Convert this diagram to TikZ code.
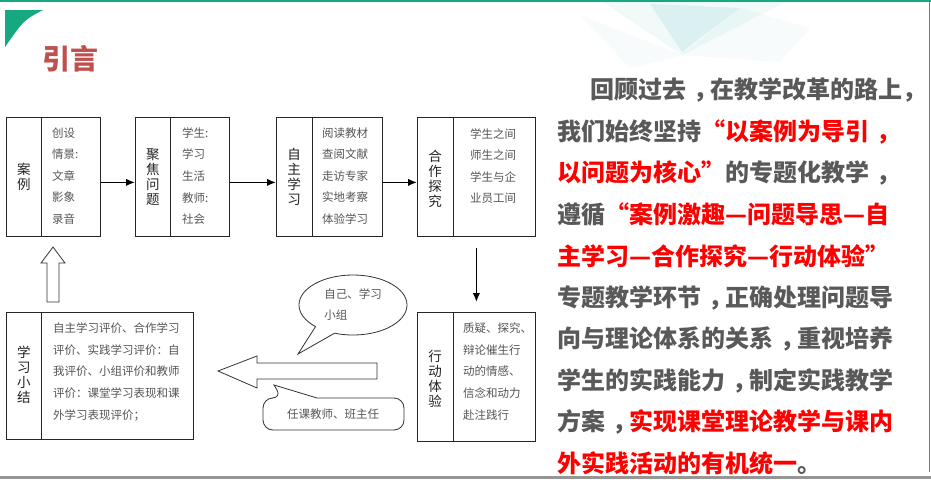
\documentclass[tikz,border=0pt]{standalone}
\usepackage{fontspec}
\newfontfamily\cjk{Noto Sans CJK SC}
\usetikzlibrary{arrows.meta,shapes.callouts,calc}
\definecolor{tealg}{RGB}{22,168,128}
\definecolor{polyteal}{RGB}{120,200,205}
\definecolor{titlered}{RGB}{192,80,77}
\definecolor{txtgray}{RGB}{89,89,89}
\definecolor{lstgray}{RGB}{85,85,85}
\definecolor{lblblack}{RGB}{35,35,35}
\definecolor{redtxt}{RGB}{255,0,0}
\definecolor{edgegray}{RGB}{150,150,150}
\newcommand{\zc}{\makebox[24pt][l]{\hspace{7pt}，}}
\begin{document}
\begin{tikzpicture}[x=1pt,y=-1pt,
  part/.style={draw=black!85, line width=0.8pt, minimum height=119pt, inner sep=0pt, anchor=north west},
  partlow/.style={part, minimum height=128pt},
  vlabel/.style={align=center, inner sep=0pt, text=lblblack, font=\cjk\fontsize{13.5}{15}\selectfont},
  lst/.style={align=left, inner sep=0pt, text=lstgray, font=\cjk\fontsize{11.5}{21.6}\selectfont},
  conn/.style={line width=1.6pt, -{Latex[length=9pt,width=7.5pt]}},
  hollow/.style={draw=black!80, line width=0.8pt, fill=white},
  para/.style={anchor=west, inner sep=0pt, text=txtgray, font=\cjk\bfseries\fontsize{24}{24}\selectfont}
]
\useasboundingbox (0,0) rectangle (931,479);
\fill[white] (0,0) rectangle (931,479);
% faint background polygons
\fill[polyteal, opacity=0.10] (600,0) -- (790,0) -- (682,55) -- cycle;
\fill[polyteal, opacity=0.18] (650,4) -- (740,8) -- (700,38) -- (682,52) -- cycle;
\fill[polyteal, opacity=0.06] (580,15) -- (682,55) -- (630,68) -- cycle;
\fill[polyteal, opacity=0.06] (740,8) -- (810,28) -- (780,62) -- (682,55) -- cycle;
% frame lines
\draw[tealg, line width=2pt] (0,1) -- (931,1);
\draw[tealg, line width=1.5pt] (929.5,0) -- (929.5,472);
\draw[edgegray, line width=3pt] (0,477.5) -- (931,477.5);
% corner ornament
\fill[tealg] (5,10) -- (43,10) .. controls (24,20) .. (5,47) -- cycle;
% title
\node[inner sep=0pt, text=titlered, font=\cjk\bfseries\fontsize{28}{28}\selectfont] (title) at (70.5,59) {引言};

% top row boxes
\node[part, minimum width=35pt] (b1l) at (6,117) {};
\node[part, minimum width=59pt] (b1r) at (41,117) {};
\node[part, minimum width=35pt] (b2l) at (135,117) {};
\node[part, minimum width=59pt] (b2r) at (170,117) {};
\node[part, minimum width=35.5pt] (b3l) at (276,117) {};
\node[part, minimum width=70.5pt] (b3r) at (311.5,117) {};
\node[part, minimum width=35.5pt] (b4l) at (417,117) {};
\node[part, minimum width=82.5pt] (b4r) at (452.5,117) {};
% bottom row boxes
\node[partlow, minimum width=35.5pt, minimum height=129pt] (b5l) at (417,312) {};
\node[partlow, minimum width=82.5pt, minimum height=129pt] (b5r) at (452.5,312) {};
\node[partlow, minimum width=35pt, minimum height=127pt] (b6l) at (6,312) {};
\node[partlow, minimum width=152pt, minimum height=127pt] (b6r) at (41,312) {};

% labels
\node[vlabel] (l1) at (b1l.center) {案\\例};
\node[vlabel] (l2) at (b2l.center) {聚\\焦\\问\\题};
\node[vlabel] (l3) at (b3l.center) {自\\主\\学\\习};
\node[vlabel] (l4) at ([yshift=-1.5pt]b4l.center) {合\\作\\探\\究};
\node[vlabel] (l5) at ([yshift=-1.5pt]b5l.center) {行\\动\\体\\验};
\node[vlabel] (l6) at ([yshift=1pt]b6l.center) {学\\习\\小\\结};

% contents
\node[lst, anchor=west] (c1) at (52,176) {创设\\情景:\\文章\\影象\\录音};
\node[lst, anchor=west] (c2) at (182,176) {学生:\\学习\\生活\\教师:\\社会};
\node[lst, anchor=west] (c3) at (322,176) {阅读教材\\查阅文献\\走访专家\\实地考察\\体验学习};
\node[lst, anchor=west] (c4) at (470,166) {学生之间\\师生之间\\学生与企\\业员工间};
\node[lst, anchor=west] (c5) at (463,371.5) {质疑、探究、\\辩论催生行\\动的情感、\\信念和动力\\赴注践行};
\node[lst, anchor=west] (c6) at (53,372) {自主学习评价、合作学习\\评价、实践学习评价：自\\我评价、小组评价和教师\\评价：课堂学习表现和课\\外学习表现评价；};

% connectors
\draw[conn] ([yshift=-5.5pt]b1r.east) -- ([yshift=-5.5pt]b2l.west);
\draw[conn] ([yshift=-5.5pt]b2r.east) -- ([yshift=-5.5pt]b3l.west);
\draw[conn] ([yshift=-5.5pt]b3r.east) -- ([yshift=-5.5pt]b4l.west);
\coordinate (b4bot) at ($(b4l.south west)!0.5!(b4r.south east)$);
\coordinate (b5top) at ($(b5l.north west)!0.5!(b5r.north east)$);
\draw[conn, shorten <=11pt, shorten >=10pt] (b4bot) -- (b5top);

% hollow block arrows
\draw[hollow] (53,247) -- (65,263) -- (59,263) -- (59,302) -- (47,302) -- (47,263) -- (41,263) -- cycle;
\draw[hollow] (218,371) -- (257,356) -- (257,363) -- (377,363) -- (377,379) -- (257,379) -- (257,388) -- cycle;

% callouts
\node[ellipse callout, draw=black!80, line width=0.8pt, fill=white, minimum width=108pt, minimum height=60pt,
      callout absolute pointer={(298,354)}, callout pointer arc=24,
      lst, font=\cjk\fontsize{11.5}{21}\selectfont] (k1) at (353,305) {自己、学习\\小组};
\draw[hollow] (282,398) -- (274,385) -- (317,398) [rounded corners=10pt] -- (404,398) -- (404,430) -- (263,430) -- (263,398) -- cycle;
\node[lst] (k2) at (333,414) {任课教师、班主任};

% paragraph
\node[para] (p1) at (590,90) {回顾过去\zc 在教学改革的路上\rlap{，}};
\node[para] (p2) at (557,131.5) {我们始终坚持{\color{redtxt}“以案例为导引\zc}};
\node[para] (p3) at (557,173) {{\color{redtxt}以问题为核心”}的专题化教学\zc};
\node[para] (p4) at (557,214.5) {遵循{\color{redtxt}“案例激趣—问题导思—自}};
\node[para] (p5) at (557,256) {{\color{redtxt}主学习—合作探究—行动体验”}};
\node[para] (p6) at (557,297.5) {专题教学环节\zc 正确处理问题导};
\node[para] (p7) at (557,339) {向与理论体系的关系\zc 重视培养};
\node[para] (p8) at (557,380.5) {学生的实践能力\zc 制定实践教学};
\node[para] (p9) at (557,422) {方案\zc{\color{redtxt}实现课堂理论教学与课内}};
\node[para] (p10) at (557,463.5) {{\color{redtxt}外实践活动的有机统一}。};
\end{tikzpicture}
\end{document}
